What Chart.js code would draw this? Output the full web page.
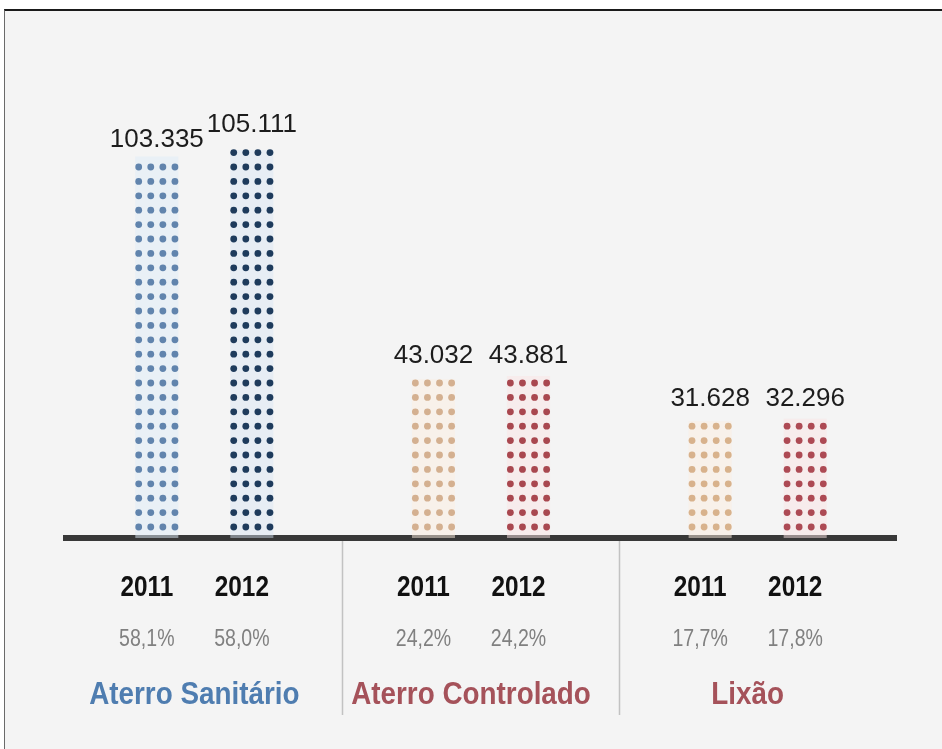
<!DOCTYPE html>
<html>
<head>
<meta charset="utf-8">
<script src="https://cdn.jsdelivr.net/npm/chart.js@4/dist/chart.umd.min.js"></script>
<style>
  html, body { margin: 0; padding: 0; background: #ffffff; }
  #frame {
    position: absolute; left: 4px; top: 9px; width: 938px; height: 740px;
    border-top: 2px solid #1a1a1a; border-left: 1px solid #6a6a6a;
    background: #f4f4f4;
  }
  #wasteChart { position: absolute; left: 0; top: 0; }
</style>
</head>
<body>
<div id="frame"></div>
<canvas id="wasteChart" width="942" height="749"></canvas>
<script>
const categories = ['Aterro Sanitário', 'Aterro Controlado', 'Lixão'];
const years = ['2011', '2012'];
const values2011 = [103335, 43032, 31628];
const values2012 = [105111, 43881, 32296];
const share2011 = ['58,1%', '24,2%', '17,7%'];
const share2012 = ['58,0%', '24,2%', '17,8%'];

const categoryColors = ['#4f7db0', '#a5525a', '#a5525a'];
const dotColors2011 = ['#6184ad', '#d4b090', '#d8b28c'];
const dotColors2012 = ['#1e3b5c', '#a9474f', '#ad4a54'];
const tint2011 = ['rgba(222,235,248,0.5)', 'rgba(252,238,224,0.5)', 'rgba(252,238,224,0.5)'];
const tint2012 = ['rgba(216,229,244,0.45)', 'rgba(250,228,228,0.5)', 'rgba(250,228,228,0.5)'];

const sans = "'Liberation Sans', Arial, sans-serif";

// 103335 -> "103.335"
const fmt = v => String(v).replace(/\B(?=(\d{3})+(?!\d))/g, '.');

// condensed text: Liberation Sans squeezed horizontally
function narrowText(ctx, text, x, y, font, color, squeeze) {
  ctx.save();
  ctx.font = font;
  ctx.fillStyle = color;
  ctx.textAlign = 'center';
  ctx.textBaseline = 'alphabetic';
  ctx.translate(x, y);
  ctx.scale(squeeze, 1);
  ctx.fillText(text, 0, 0);
  ctx.restore();
}

// bars are filled with a grid of dots, 4 columns, stacked from the baseline
const dotBars = {
  id: 'dotBars',
  afterDatasetsDraw(chart) {
    const ctx = chart.ctx;
    ctx.save();
    chart.data.datasets.forEach((ds, di) => {
      const meta = chart.getDatasetMeta(di);
      const shares = di === 0 ? share2011 : share2012;
      meta.data.forEach((bar, i) => {
        const { x, y, base, width } = bar.getProps(['x', 'y', 'base', 'width'], true);
        const r = 3.4;
        const step = (width - 2 * r) / 3;
        ctx.fillStyle = ds.dotColors[i];
        let top = base;
        for (let cy = base - 11; cy >= y - 2; cy -= 14.4) {
          for (let c = 0; c < 4; c++) {
            ctx.beginPath();
            ctx.arc(x - width / 2 + r + c * step, cy, r, 0, Math.PI * 2);
            ctx.fill();
          }
          top = cy - r;
        }
        // value above the bar
        ctx.fillStyle = '#1c1c1c';
        ctx.font = '26px ' + sans;
        ctx.textAlign = 'center';
        ctx.textBaseline = 'alphabetic';
        ctx.fillText(fmt(ds.data[i]), x, top - 17);
        // year and share under the baseline
        narrowText(ctx, ds.label, x - 10, base + 58, 'bold 29px ' + sans, '#111111', 0.84);
        narrowText(ctx, shares[i], x - 10, base + 108, '23px ' + sans, '#808080', 0.85);
      });
    });
    // group names
    const xs = chart.scales.x;
    categories.forEach((name, i) => {
      narrowText(ctx, name, xs.getPixelForValue(i) - 10, xs.top + 166,
        'bold 32px ' + sans, categoryColors[i], 0.87);
    });
    ctx.restore();
  }
};

new Chart(document.getElementById('wasteChart'), {
  type: 'bar',
  data: {
    labels: categories,
    datasets: [
      { label: years[0], data: values2011, backgroundColor: tint2011, dotColors: dotColors2011 },
      { label: years[1], data: values2012, backgroundColor: tint2012, dotColors: dotColors2012 }
    ]
  },
  options: {
    responsive: false,
    animation: false,
    categoryPercentage: 0.687,
    barPercentage: 0.453,
    layout: { padding: { left: 66, right: 46, top: 95, bottom: 34 } },
    plugins: { legend: { display: false }, tooltip: { enabled: false } },
    scales: {
      y: { display: false, min: 0, max: 120000 },
      x: {
        border: { display: true, color: '#383838', width: 6 },
        grid: {
          offset: true,
          drawOnChartArea: false,
          drawTicks: true,
          tickLength: 177,
          tickWidth: 1.5,
          tickColor: c => (c.index === 1 || c.index === 2) ? '#c2c2c2' : 'rgba(0,0,0,0)'
        },
        ticks: { display: false }
      }
    }
  },
  plugins: [dotBars]
});
</script>
</body>
</html>
